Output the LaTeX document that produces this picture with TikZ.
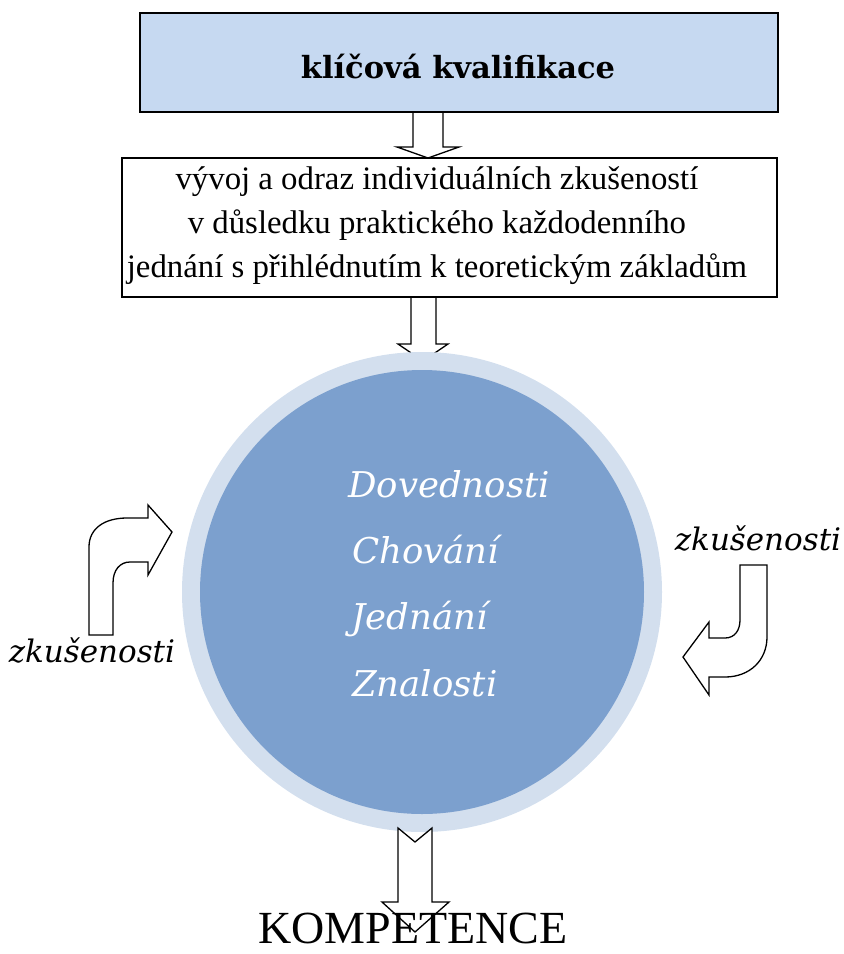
\documentclass[tikz,border=0pt]{standalone}
\usepackage{fontspec}
\setmainfont{Liberation Serif}
\newfontfamily\bookfont{DejaVu Serif}
\definecolor{topblue}{RGB}{198,217,241}
\definecolor{ringblue}{RGB}{211,223,238}
\definecolor{discblue}{RGB}{124,160,206}
\tikzset{
  blockarrow/.style={draw=black, fill=white, line width=1.3pt, line join=miter},
  kompetence/.style={font=\bookfont\itshape\fontsize{35.5}{38}\selectfont, text=white, anchor=base west, inner sep=0pt},
  zkus/.style={font=\bookfont\itshape\fontsize{31}{34}\selectfont, inner sep=0pt}
}
\begin{document}
\begin{tikzpicture}[x=1pt, y=-1pt]
\useasboundingbox (0,0) rectangle (844,954);
\node[draw, line width=1.3pt, fill=topblue, minimum width=638pt, minimum height=99pt, inner sep=0pt] (klic) at (459,62.5) {};
\node[inner sep=0pt, anchor=base, font=\bookfont\bfseries\fontsize{30.5}{34}\selectfont] (klictext) at (458,78) {klíčová kvalifikace};
\node[draw, line width=1.3pt, minimum width=655pt, minimum height=139pt, inner sep=0pt] (vyvoj) at (449.5,227.5) {};
\node[align=center, inner sep=0pt, font=\fontsize{32.8}{44}\selectfont] (vyvojtext) at (437,226)
  {vývoj a odraz individuálních zkušeností\\ v důsledku praktického každodenního\\ jednání s přihlédnutím k teoretickým základům};
\draw[blockarrow, fill=none] (413,112) -- (413,147) -- (397,147) -- (428,158) -- (459,147) -- (443,147) -- (443,112);
\draw[blockarrow, fill=none] (411,297) -- (411,344) -- (398,344) -- (423,361) -- (448,344) -- (436,344) -- (436,297);
\fill[ringblue] (422,592) circle (240pt);
\fill[discblue] (422,592) circle (222pt);
\node[kompetence] (dov) at (348,497) {Dovednosti};
\node[kompetence] (chov) at (352,563) {Chování};
\node[kompetence] (jed) at (351,629) {Jednání};
\node[kompetence] (zna) at (352,696) {Znalosti};
\draw[blockarrow] (398,828) -- (415,842) -- (432,828) -- (432,902) -- (449,902) -- (415,932) -- (382,902) -- (398,902) -- cycle;
\node[inner sep=0pt, anchor=base, font=\fontsize{46}{50}\selectfont] (komp) at (413,943) {KOMPETENCE};
\draw[blockarrow] (89,635) -- (89,547) .. controls (89,528) and (105,518) .. (127,518) -- (148,518) -- (148,505) -- (172,532) -- (148,575) -- (148,562) -- (130,562) .. controls (120,562) and (113,570) .. (113,583) -- (113,635) -- cycle;
\draw[blockarrow] (740,565) -- (767,565) -- (767,637) .. controls (767,660) and (750,677) .. (725,677) -- (709,677) -- (709,695) -- (683,657) -- (709,622) -- (709,638) -- (725,638) .. controls (735,638) and (740,630) .. (740,620) -- cycle;
\node[zkus] (zkl) at (92,650) {zkušenosti};
\node[zkus] (zkr) at (758,538) {zkušenosti};
\end{tikzpicture}
\end{document}
